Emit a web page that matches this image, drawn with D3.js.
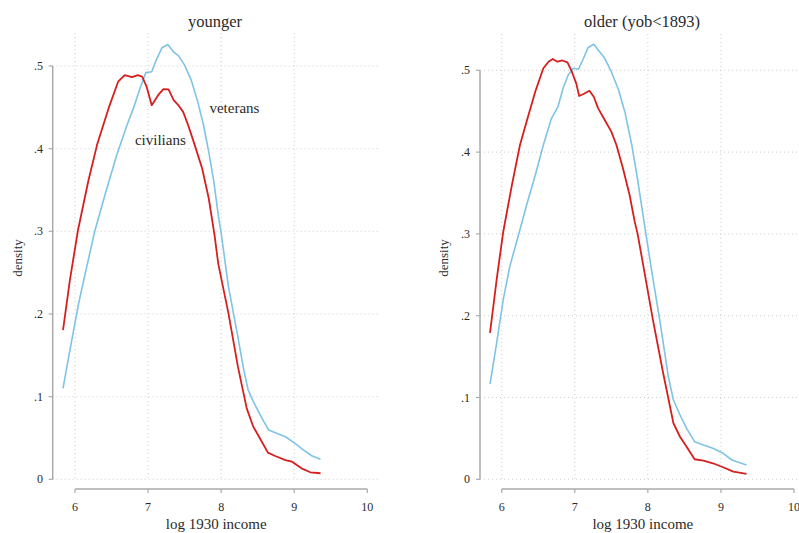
<!DOCTYPE html>
<html><head><meta charset="utf-8">
<script src="https://cdn.jsdelivr.net/npm/d3@7"></script>
<style>
body{margin:0;background:#fff;}
text{font-family:"Liberation Serif","Times New Roman",serif;fill:#2a2a2a;}
</style></head>
<body><svg id="c" width="799" height="533"></svg>
<script>
// ---------- data ----------
const panelTitles = ["younger", "older (yob<1893)"];
const xTicks = [6, 7, 8, 9, 10];
const yTicks = [0, 0.1, 0.2, 0.3, 0.4, 0.5];
const yTickLabels = ["0", ".1", ".2", ".3", ".4", ".5"];
const seriesNames = ["civilians", "veterans"];

const youngCivX = [5.836,5.93,6.04,6.18,6.30,6.46,6.59,6.68,6.78,6.86,6.92,6.98,7.05,7.14,7.21,7.28,7.35,7.42,7.48,7.55,7.64,7.74,7.83,7.91,7.96,8.10,8.23,8.35,8.44,8.53,8.64,8.74,8.88,8.97,9.10,9.22,9.36];
const youngCivY = [0.1805,0.241,0.301,0.36,0.404,0.449,0.481,0.489,0.4865,0.489,0.487,0.475,0.4526,0.465,0.472,0.4716,0.4587,0.452,0.4445,0.428,0.404,0.376,0.34,0.295,0.261,0.2007,0.136,0.0858,0.0636,0.0496,0.0322,0.0282,0.0233,0.0213,0.0133,0.0085,0.0073];

const youngVetX = [5.836,5.93,6.05,6.16,6.27,6.41,6.57,6.71,6.80,6.89,6.97,7.05,7.12,7.19,7.27,7.35,7.42,7.50,7.59,7.68,7.76,7.83,7.90,7.96,8.0,8.10,8.22,8.31,8.37,8.44,8.56,8.65,8.76,8.88,9.01,9.13,9.24,9.36];
const youngVetY = [0.11,0.156,0.213,0.257,0.3,0.344,0.392,0.428,0.449,0.473,0.492,0.493,0.509,0.522,0.526,0.517,0.512,0.501,0.483,0.4566,0.428,0.396,0.36,0.32,0.298,0.233,0.1765,0.132,0.108,0.094,0.0737,0.0596,0.0556,0.0515,0.0435,0.0354,0.0285,0.0242];

const oldCivX = [5.84,5.93,6.02,6.14,6.25,6.34,6.46,6.57,6.64,6.70,6.76,6.83,6.90,6.96,7.02,7.06,7.12,7.20,7.26,7.32,7.41,7.50,7.57,7.66,7.75,7.82,7.86,7.94,8.07,8.21,8.35,8.44,8.53,8.64,8.76,8.89,9.03,9.17,9.35];
const oldCivY = [0.179,0.2436,0.302,0.36,0.4087,0.437,0.474,0.5025,0.5105,0.5138,0.5105,0.512,0.5098,0.4983,0.484,0.4686,0.471,0.475,0.4677,0.4535,0.4392,0.425,0.4087,0.38,0.3476,0.315,0.3,0.26,0.1947,0.1296,0.0685,0.052,0.0399,0.0245,0.0228,0.0196,0.0147,0.0093,0.0065];

const oldVetX = [5.84,5.93,6.02,6.11,6.24,6.34,6.46,6.57,6.68,6.77,6.84,6.91,6.98,7.05,7.12,7.18,7.26,7.34,7.41,7.50,7.60,7.69,7.78,7.85,7.92,7.97,8.05,8.17,8.28,8.35,8.44,8.53,8.64,8.76,8.89,9.03,9.15,9.35];
const oldVetY = [0.1165,0.1663,0.219,0.26,0.302,0.335,0.372,0.4087,0.441,0.4555,0.478,0.4943,0.5025,0.5012,0.5147,0.5276,0.5318,0.5228,0.5147,0.4983,0.476,0.4474,0.4087,0.372,0.3313,0.302,0.256,0.1907,0.1254,0.097,0.0786,0.0623,0.046,0.0419,0.0379,0.0318,0.0236,0.0175];

// label anchor positions (data coordinates) for the left panel
const labelX = [6.82, 7.84];
const labelY = [0.405, 0.443];

// ---------- drawing ----------
const svg = d3.select("#c");
const red = "#d61f1f", blue = "#7fc3e6";

const panels = [
  {title: panelTitles[0], civ: [youngCivX, youngCivY], vet: [youngVetX, youngVetY],
   xr: [75, 367.3], yr: [479.3, 66], axisX: 52.7, plotL: 53, plotR: 378, plotT: 33,
   yLabX: 43, titleX: 215, densX: 22, labels: true},
  {title: panelTitles[1], civ: [oldCivX, oldCivY], vet: [oldVetX, oldVetY],
   xr: [501.7, 794], yr: [479.3, 70.3], axisX: 480, plotL: 480, plotR: 805, plotT: 34,
   yLabX: 470, titleX: 642, densX: 448, labels: false}
];

panels.forEach(p => {
  const x = d3.scaleLinear().domain([6, 10]).range(p.xr);
  const y = d3.scaleLinear().domain([0, 0.5]).range(p.yr);
  const g = svg.append("g");

  // grid
  g.selectAll(".hg").data(yTicks).join("line")
    .attr("x1", p.axisX).attr("x2", p.plotR)
    .attr("y1", d => y(d)).attr("y2", d => y(d))
    .attr("stroke", "#cdcdcd").attr("stroke-width", 1).attr("stroke-dasharray", "1,3");
  g.selectAll(".vg").data(xTicks.slice(0, 4)).join("line")
    .attr("x1", d => x(d)).attr("x2", d => x(d))
    .attr("y1", p.plotT).attr("y2", y(0))
    .attr("stroke", "#cdcdcd").attr("stroke-width", 1).attr("stroke-dasharray", "1,3");

  // y axis
  g.append("line").attr("x1", p.axisX).attr("x2", p.axisX)
    .attr("y1", y(0.5)).attr("y2", y(0)).attr("stroke", "#aaa").attr("stroke-width", 1.5);
  g.selectAll(".yt").data(yTicks).join("line")
    .attr("x1", p.axisX - 4).attr("x2", p.axisX)
    .attr("y1", d => y(d)).attr("y2", d => y(d)).attr("stroke", "#aaa").attr("stroke-width", 1.2);
  g.selectAll(".yl").data(yTicks).join("text")
    .attr("x", p.yLabX).attr("y", d => y(d) + 4).attr("text-anchor", "end")
    .attr("font-size", 12).text((d, i) => yTickLabels[i]);

  // x axis
  const axY = 489;
  g.append("line").attr("x1", x(6)).attr("x2", x(10))
    .attr("y1", axY).attr("y2", axY).attr("stroke", "#aaa").attr("stroke-width", 1.5);
  g.selectAll(".xt").data(xTicks).join("line")
    .attr("x1", d => x(d)).attr("x2", d => x(d))
    .attr("y1", axY).attr("y2", axY + 4).attr("stroke", "#aaa").attr("stroke-width", 1.2);
  g.selectAll(".xl").data(xTicks).join("text")
    .attr("x", d => x(d)).attr("y", 511).attr("text-anchor", "middle")
    .attr("font-size", 12).text(d => d);

  // titles
  g.append("text").attr("x", p.titleX).attr("y", 27).attr("text-anchor", "middle")
    .attr("font-size", 16.5).text(p.title);
  g.append("text").attr("x", (x(6) + x(10)) / 2 - 5).attr("y", 529).attr("text-anchor", "middle")
    .attr("font-size", 15).text("log 1930 income");
  g.append("text").attr("transform", `translate(${p.densX},258) rotate(-90)`)
    .attr("text-anchor", "middle").attr("font-size", 13).text("density");

  // lines
  const line = d3.line().x(d => x(d[0])).y(d => y(d[1]));
  const vetPts = p.vet[0].map((v, i) => [v, p.vet[1][i]]);
  const civPts = p.civ[0].map((v, i) => [v, p.civ[1][i]]);
  g.append("path").datum(vetPts).attr("d", line).attr("fill", "none")
    .attr("stroke", blue).attr("stroke-width", 1.6).attr("stroke-linejoin", "round");
  g.append("path").datum(civPts).attr("d", line).attr("fill", "none")
    .attr("stroke", red).attr("stroke-width", 1.8).attr("stroke-linejoin", "round");

  if (p.labels) {
    g.selectAll(".sl").data(seriesNames).join("text")
      .attr("x", (d, i) => x(labelX[i])).attr("y", (d, i) => y(labelY[i]))
      .attr("font-size", 15).text(d => d);
  }
});
</script></body></html>
